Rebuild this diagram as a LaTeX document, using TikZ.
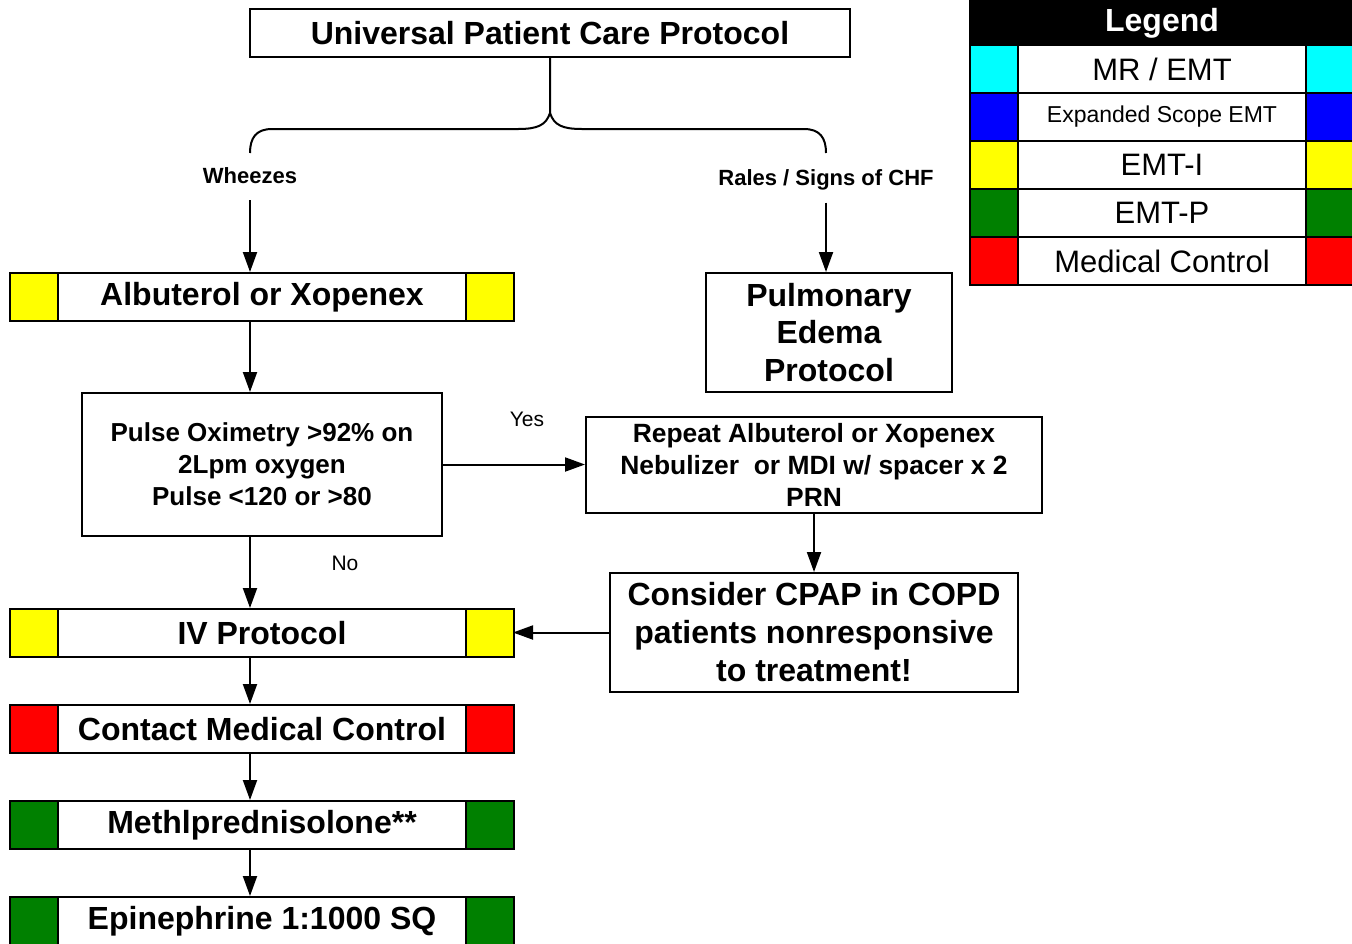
\documentclass[tikz,border=0pt]{standalone}
\usepackage{fontspec}
\setmainfont{Liberation Sans}
\usepackage{xcolor}
\usetikzlibrary{arrows.meta,positioning}
\definecolor{emti}{RGB}{255,255,0}
\definecolor{emtp}{RGB}{0,128,0}
\definecolor{medctl}{RGB}{255,0,0}
\definecolor{mremt}{RGB}{0,255,255}
\definecolor{esemt}{RGB}{0,0,255}
\newcommand{\fs}[2]{\fontsize{#1}{#2}\selectfont}
\tikzset{
  box/.style={draw,line width=1pt,fill=white,align=center,inner sep=0pt},
  bar/.style={box,minimum width=204pt,minimum height=24pt,font=\bfseries\fs{16}{19}},
  cell/.style={draw,line width=1pt,minimum width=24pt,minimum height=24pt,inner sep=0pt,outer sep=-0.5pt,fill=#1},
  lbl/.style={font=\bfseries\fs{11}{13},inner sep=0pt},
  plain/.style={font=\fs{10.5}{12},inner sep=0pt},
  arr/.style={-{Triangle[length=10pt,width=7pt]},line width=1pt},
  legrow/.style={box,minimum width=144pt,minimum height=24pt,font=\fs{15.5}{18}}
}
\begin{document}
\begin{tikzpicture}[x=0.5pt,y=-0.5pt]
\useasboundingbox (0,0) rectangle (1352,943);
% Top and brace
\node[box,minimum width=300pt,minimum height=24pt,font=\bfseries\fs{16}{19}] (top) at (550,33) {Universal Patient Care Protocol};
\coordinate (fork) at (550,113);
\coordinate (bl) at (250,153);
\coordinate (br) at (826,153);
\draw[line width=1pt] (top.south) -- (fork) .. controls (546,125) and (538,129) .. (518,129) -- (272,129) .. controls (256,129) and (250,138) .. (bl);
\draw[line width=1pt] (fork) .. controls (554,125) and (562,129) .. (582,129) -- (804,129) .. controls (820,129) and (826,138) .. (br);
\node[lbl] (wz) at (250,176) {Wheezes};
\node[lbl] (rl) at (826,180) {Rales / Signs of CHF};
% Wheezes branch
\node[bar] (alb) at (262,297) {Albuterol or Xopenex};
\node[cell=emti,left=0pt of alb] (albL) {};
\node[cell=emti,right=0pt of alb] (albR) {};
\node[box,minimum width=180pt,minimum height=71.5pt,font=\bfseries\fs{13}{16}] (pox) at (262,464.5) {Pulse Oximetry >92\% on\\2Lpm oxygen\\Pulse <120 or >80};
\node[box,minimum width=228pt,minimum height=48pt,font=\bfseries\fs{13.2}{16}] (rep) at (814,465) {Repeat Albuterol or Xopenex\\Nebulizer~ or MDI w/ spacer x 2\\PRN};
\node[box,minimum width=204pt,minimum height=59.5pt,font=\bfseries\fs{16}{19}] (cpap) at (814,632.5) {Consider CPAP in COPD\\patients nonresponsive\\to treatment!};
\node[bar] (iv) at (262,633) {IV Protocol};
\node[cell=emti,left=0pt of iv] (ivL) {};
\node[cell=emti,right=0pt of iv] (ivR) {};
\node[bar] (mc) at (262,729) {Contact Medical Control};
\node[cell=medctl,left=0pt of mc] (mcL) {};
\node[cell=medctl,right=0pt of mc] (mcR) {};
\node[bar] (meth) at (262,825) {Methlprednisolone**};
\node[cell=emtp,left=0pt of meth] (methL) {};
\node[cell=emtp,right=0pt of meth] (methR) {};
\node[bar] (epi) at (262,921) {Epinephrine 1:1000 SQ};
\node[cell=emtp,left=0pt of epi] (epiL) {};
\node[cell=emtp,right=0pt of epi] (epiR) {};
% CHF branch
\node[box,minimum width=123pt,minimum height=59.5pt,font=\bfseries\fs{16}{18.75}] (pulm) at (829,332.5) {Pulmonary\\Edema\\Protocol};
% Arrows
\draw[arr,shorten <=8pt] (wz.south) -- (wz.south |- alb.north);
\draw[arr,shorten <=6pt] (rl.south) -- (rl.south |- pulm.north);
\draw[arr] (alb.south -| wz) -- (pox.north -| wz);
\draw[arr] (pox.east) -- (pox.east -| rep.west);
\node[plain] (yes) at (527,419) {Yes};
\draw[arr] (rep.south) -- (cpap.north);
\draw[arr] (cpap.west) -- (cpap.west -| ivR.east);
\draw[arr] (pox.south -| wz) -- (iv.north -| wz);
\node[plain] (no) at (345,563) {No};
\draw[arr] (iv.south -| wz) -- (mc.north -| wz);
\draw[arr] (mc.south -| wz) -- (meth.north -| wz);
\draw[arr] (meth.south -| wz) -- (epi.north -| wz);
% Legend
\node[draw,line width=1pt,fill=black,text=white,minimum width=192pt,minimum height=25pt,inner sep=0pt,text depth=0pt,font=\bfseries\fs{16}{19}] (leg) at (1162,20) {Legend};
\node[legrow] (lg1) at (1162,69) {MR / EMT};
\node[cell=mremt,left=0pt of lg1] (lg1L) {};
\node[cell=mremt,right=0pt of lg1] (lg1R) {};
\node[legrow,font=\fs{11.5}{14}] (lg2) at (1162,117) {Expanded Scope EMT};
\node[cell=esemt,left=0pt of lg2] (lg2L) {};
\node[cell=esemt,right=0pt of lg2] (lg2R) {};
\node[legrow] (lg3) at (1162,165) {EMT-I};
\node[cell=emti,left=0pt of lg3] (lg3L) {};
\node[cell=emti,right=0pt of lg3] (lg3R) {};
\node[legrow] (lg4) at (1162,213) {EMT-P};
\node[cell=emtp,left=0pt of lg4] (lg4L) {};
\node[cell=emtp,right=0pt of lg4] (lg4R) {};
\node[legrow] (lg5) at (1162,261) {Medical Control};
\node[cell=medctl,left=0pt of lg5] (lg5L) {};
\node[cell=medctl,right=0pt of lg5] (lg5R) {};
\end{tikzpicture}
\end{document}
